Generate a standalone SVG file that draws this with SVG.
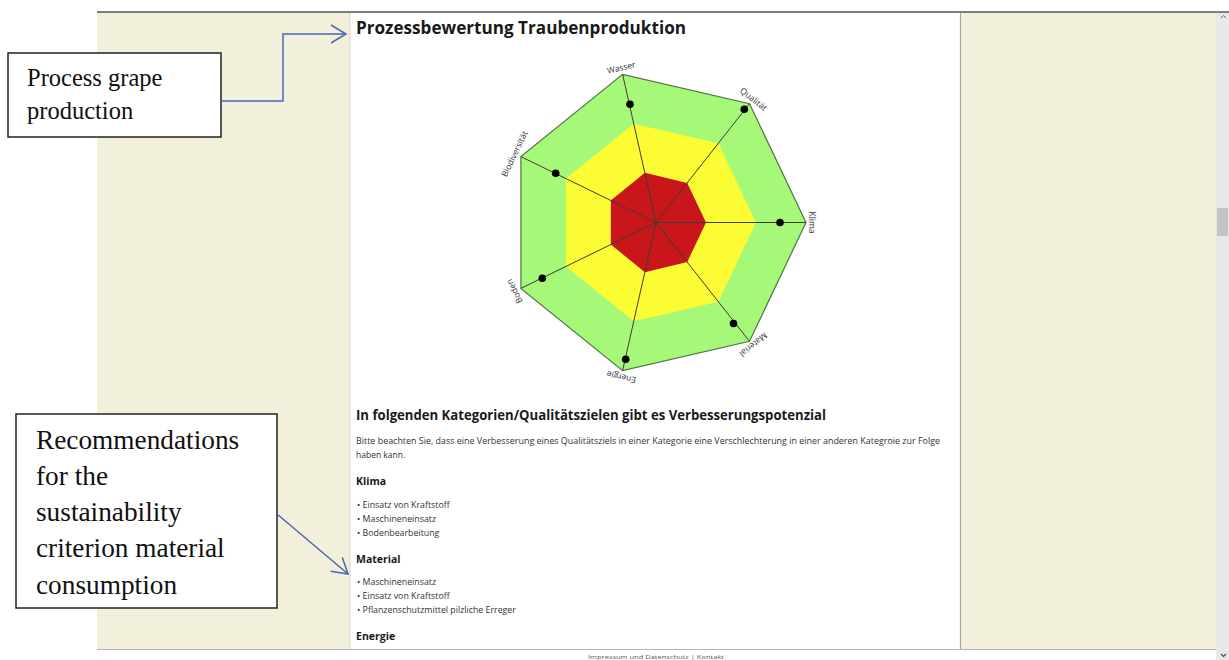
<svg xmlns="http://www.w3.org/2000/svg" width="1229" height="660" viewBox="0 0 1229 660">
<style>
.bx{fill:#fff;stroke:#222;stroke-width:1.5}
.bt{font-family:"Liberation Serif",serif;fill:#111}
.conn{fill:none;stroke:#4a68b4;stroke-width:1.5}
.ax{stroke:#3d3d35;stroke-width:1}
.lbl{font-family:"Open Sans","DejaVu Sans",sans-serif;font-size:8.5px;fill:#333;text-anchor:middle}
.dot{fill:#000}
.body{font-family:"Open Sans","DejaVu Sans",sans-serif;fill:#333}
.h{font-weight:700;fill:#1a1a1a}
.p{font-size:8.5px}
.li{font-size:8.8px}
.hs{font-size:10.5px;font-weight:700;fill:#1a1a1a}
.foot{font-family:"Open Sans","DejaVu Sans",sans-serif;font-size:6px;fill:#555}
</style>
<defs>
<marker id="arr" markerUnits="userSpaceOnUse" markerWidth="18" markerHeight="20" viewBox="0 0 18 20" refX="16" refY="10" orient="auto">
<path d="M1,1 L16,10 L1,19" fill="none" stroke="#4a68b4" stroke-width="1.5"/>
</marker>
</defs>
<!-- page background -->
<rect x="0" y="0" width="1229" height="660" fill="#fff"/>
<rect x="97" y="12" width="1119" height="637" fill="#f2efdb"/>
<rect x="350" y="12" width="610" height="637" fill="#fff"/>
<line x1="350" y1="13" x2="350" y2="649" stroke="#d4d4cc" stroke-width="1"/>
<line x1="960.5" y1="13" x2="960.5" y2="649" stroke="#a8a8a0" stroke-width="1.2"/>
<line x1="97" y1="12" x2="1229" y2="12" stroke="#555" stroke-width="1.6"/>
<line x1="97" y1="649.5" x2="1216" y2="649.5" stroke="#b8b8b8" stroke-width="1"/>
<!-- scrollbar -->
<g id="scrollbar">
<rect x="1216" y="13" width="13" height="647" fill="#e8e8e8"/>
<rect x="1217" y="208" width="11" height="28" fill="#c4c4c4"/>
<path d="M1221,18 L1223.5,15.5 L1226,18" fill="none" stroke="#666" stroke-width="1"/>
<path d="M1221,654 L1223.5,656.5 L1226,654" fill="none" stroke="#444" stroke-width="1.2"/>
</g>
<!-- footer -->
<text class="foot" x="656" y="659" text-anchor="middle" textLength="136" lengthAdjust="spacingAndGlyphs">Impressum und Datenschutz  |  Kontakt</text>
<!-- title -->
<g id="title">
<text class="body h" x="356" y="34" font-size="17" textLength="330" lengthAdjust="spacingAndGlyphs">Prozessbewertung Traubenproduktion</text>
</g>
<!-- radar chart -->
<g id="chart">
<polygon points="806,222.5 749.5,341.3 622.6,370.7 520.9,288.4 520.9,156.6 622.6,74.3 749.5,103.7" fill="#a6f878" stroke="#55734a" stroke-width="1.2"/>
<polygon points="756,222.5 718.3,301.7 633.7,321.3 565.9,266.5 565.9,178.5 633.7,123.7 718.3,143.3" fill="#fcfc34"/>
<polygon points="706,222.5 687.2,262.1 644.9,272.3 610.8,244.5 610.8,200.5 644.9,172.7 687.2,182.9" fill="#c8161a"/>
<g class="ax">
<line x1="656" y1="222.5" x2="806" y2="222.5"/>
<line x1="656" y1="222.5" x2="749.5" y2="341.3"/>
<line x1="656" y1="222.5" x2="622.6" y2="370.7"/>
<line x1="656" y1="222.5" x2="520.9" y2="288.4"/>
<line x1="656" y1="222.5" x2="520.9" y2="156.6"/>
<line x1="656" y1="222.5" x2="622.6" y2="74.3"/>
<line x1="656" y1="222.5" x2="749.5" y2="103.7"/>
</g>
<circle class="dot" cx="780" cy="222.5" r="3.8"/>
<circle class="dot" cx="733.5" cy="323.5" r="3.8"/>
<circle class="dot" cx="625.7" cy="359.3" r="3.8"/>
<circle class="dot" cx="542.3" cy="278.3" r="3.8"/>
<circle class="dot" cx="555.7" cy="173.3" r="3.8"/>
<circle class="dot" cx="630" cy="104.3" r="3.8"/>
<circle class="dot" cx="744.3" cy="109.3" r="3.8"/>
<text class="lbl" transform="translate(809,222.5) rotate(90)">Klima</text>
<text class="lbl" transform="translate(751.6,342.3) rotate(141.43)">Material</text>
<text class="lbl" transform="translate(621.9,374.2) rotate(192.86)">Energie</text>
<text class="lbl" transform="translate(517.2,289.9) rotate(244.29)">Boden</text>
<text class="lbl" transform="translate(517.2,155.1) rotate(295.71)">Biodiversität</text>
<text class="lbl" transform="translate(621.9,70.5) rotate(347.14)">Wasser</text>
<text class="lbl" transform="translate(751.6,101.5) rotate(38.57)">Qualität</text>
</g>
<!-- recommendations content -->
<g id="content">
<text class="body h" x="356" y="420" font-size="14" textLength="470" lengthAdjust="spacingAndGlyphs">In folgenden Kategorien/Qualitätszielen gibt es Verbesserungspotenzial</text>
<text class="body p" x="356" y="444" textLength="584" lengthAdjust="spacingAndGlyphs">Bitte beachten Sie, dass eine Verbesserung eines Qualitätsziels in einer Kategorie eine Verschlechterung in einer anderen Kategroie zur Folge</text>
<text class="body p" x="356" y="458">haben kann.</text>
<text class="body hs" x="356" y="485">Klima</text>
<text class="body li" x="357" y="508">• Einsatz von Kraftstoff</text>
<text class="body li" x="357" y="522">• Maschineneinsatz</text>
<text class="body li" x="357" y="536">• Bodenbearbeitung</text>
<text class="body hs" x="356" y="563">Material</text>
<text class="body li" x="357" y="585">• Maschineneinsatz</text>
<text class="body li" x="357" y="599">• Einsatz von Kraftstoff</text>
<text class="body li" x="357" y="613">• Pflanzenschutzmittel pilzliche Erreger</text>
<text class="body hs" x="356" y="640">Energie</text>
</g>
<!-- annotation boxes -->
<g id="box-process">
<rect class="bx" x="8" y="53" width="213" height="84"/>
<text class="bt" x="27" y="86" font-size="24.5">Process grape</text>
<text class="bt" x="27" y="119" font-size="24.5">production</text>
</g>
<g id="box-recommendations">
<rect class="bx" x="16" y="414" width="261" height="194"/>
<text class="bt" x="36" y="449" font-size="27.3">Recommendations</text>
<text class="bt" x="36" y="485" font-size="27.3">for the</text>
<text class="bt" x="36" y="521" font-size="27.3">sustainability</text>
<text class="bt" x="36" y="557" font-size="27.3">criterion material</text>
<text class="bt" x="36" y="594" font-size="27.3">consumption</text>
</g>
<!-- connectors -->
<g id="connectors">
<path class="conn" d="M221,101 H283 V34 H346" marker-end="url(#arr)"/>
<path class="conn" d="M277,514 L348,574" marker-end="url(#arr)"/>
</g>
</svg>
